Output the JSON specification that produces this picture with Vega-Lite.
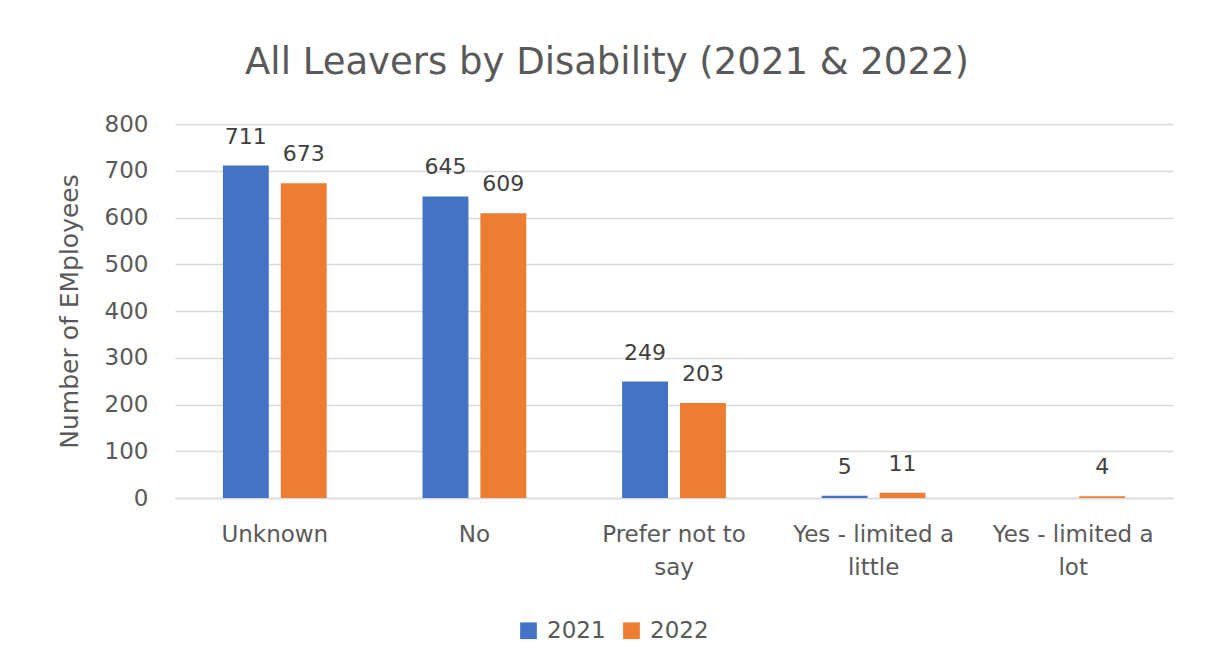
{
  "$schema": "https://vega.github.io/schema/vega-lite/v6.json",
  "autosize": {"type": "none"},
  "width": 998,
  "height": 374,
  "padding": {"left": 175, "top": 124, "right": 35, "bottom": 167},
  "background": "white",
  "title": {
    "text": "All Leavers by Disability (2021 & 2022)",
    "fontSize": 37,
    "font": "DejaVu Sans",
    "fontWeight": "normal",
    "color": "#595959",
    "anchor": "middle",
    "dx": -67,
    "offset": 31
  },
  "data": {
    "values": [
      {"category": "Unknown", "year": "2021", "count": 711},
      {"category": "Unknown", "year": "2022", "count": 673},
      {"category": "No", "year": "2021", "count": 645},
      {"category": "No", "year": "2022", "count": 609},
      {"category": "Prefer not to say", "year": "2021", "count": 249},
      {"category": "Prefer not to say", "year": "2022", "count": 203},
      {"category": "Yes - limited a little", "year": "2021", "count": 5},
      {"category": "Yes - limited a little", "year": "2022", "count": 11},
      {"category": "Yes - limited a lot", "year": "2022", "count": 4}
    ]
  },
  "encoding": {
    "x": {
      "field": "category",
      "type": "nominal",
      "sort": ["Unknown", "No", "Prefer not to say", "Yes - limited a little", "Yes - limited a lot"],
      "scale": {"paddingInner": 0, "paddingOuter": 0},
      "axis": {
        "title": null,
        "labelAngle": 0,
        "ticks": false,
        "domain": true,
        "domainColor": "#d9d9d9",
        "domainWidth": 1.5,
        "labelFont": "DejaVu Sans",
        "labelFontSize": 23,
        "labelColor": "#595959",
        "labelPadding": 36,
        "labelLineHeight": 33,
        "labelBaseline": "middle",
        "labelExpr": "datum.label == 'Prefer not to say' ? ['Prefer not to', 'say'] : datum.label == 'Yes - limited a little' ? ['Yes - limited a', 'little'] : datum.label == 'Yes - limited a lot' ? ['Yes - limited a', 'lot'] : datum.label"
      }
    },
    "xOffset": {
      "field": "year",
      "type": "nominal",
      "scale": {"paddingInner": 0.207, "paddingOuter": 0.828}
    },
    "y": {
      "field": "count",
      "type": "quantitative",
      "scale": {"domain": [0, 800]},
      "axis": {
        "title": "Number of EMployees",
        "titleFont": "DejaVu Sans",
        "titleFontSize": 25,
        "titleFontWeight": "normal",
        "titleColor": "#595959",
        "titlePadding": 22,
        "values": [0, 100, 200, 300, 400, 500, 600, 700, 800],
        "labelFont": "DejaVu Sans",
        "labelFontSize": 23,
        "labelColor": "#595959",
        "labelPadding": 27,
        "ticks": false,
        "domain": false,
        "grid": true,
        "gridColor": "#d9d9d9",
        "gridWidth": 1.5
      }
    }
  },
  "layer": [
    {
      "mark": {"type": "bar"},
      "encoding": {
        "color": {
          "field": "year",
          "type": "nominal",
          "scale": {"domain": ["2021", "2022"], "range": ["#4472C4", "#ED7D31"]},
          "legend": {
            "title": null,
            "orient": "none",
            "direction": "horizontal",
            "legendX": 342,
            "legendY": 495,
            "symbolType": "square",
            "symbolSize": 280,
            "symbolStrokeWidth": 0,
            "labelFont": "DejaVu Sans",
            "labelFontSize": 23,
            "labelColor": "#595959",
            "columnPadding": 14,
            "labelOffset": 7
          }
        }
      }
    },
    {
      "mark": {
        "type": "text",
        "dy": -17,
        "font": "DejaVu Sans",
        "fontSize": 22,
        "color": "#404040",
        "baseline": "bottom"
      },
      "encoding": {
        "text": {"field": "count", "type": "quantitative"}
      }
    }
  ],
  "config": {
    "view": {"stroke": null}
  }
}
